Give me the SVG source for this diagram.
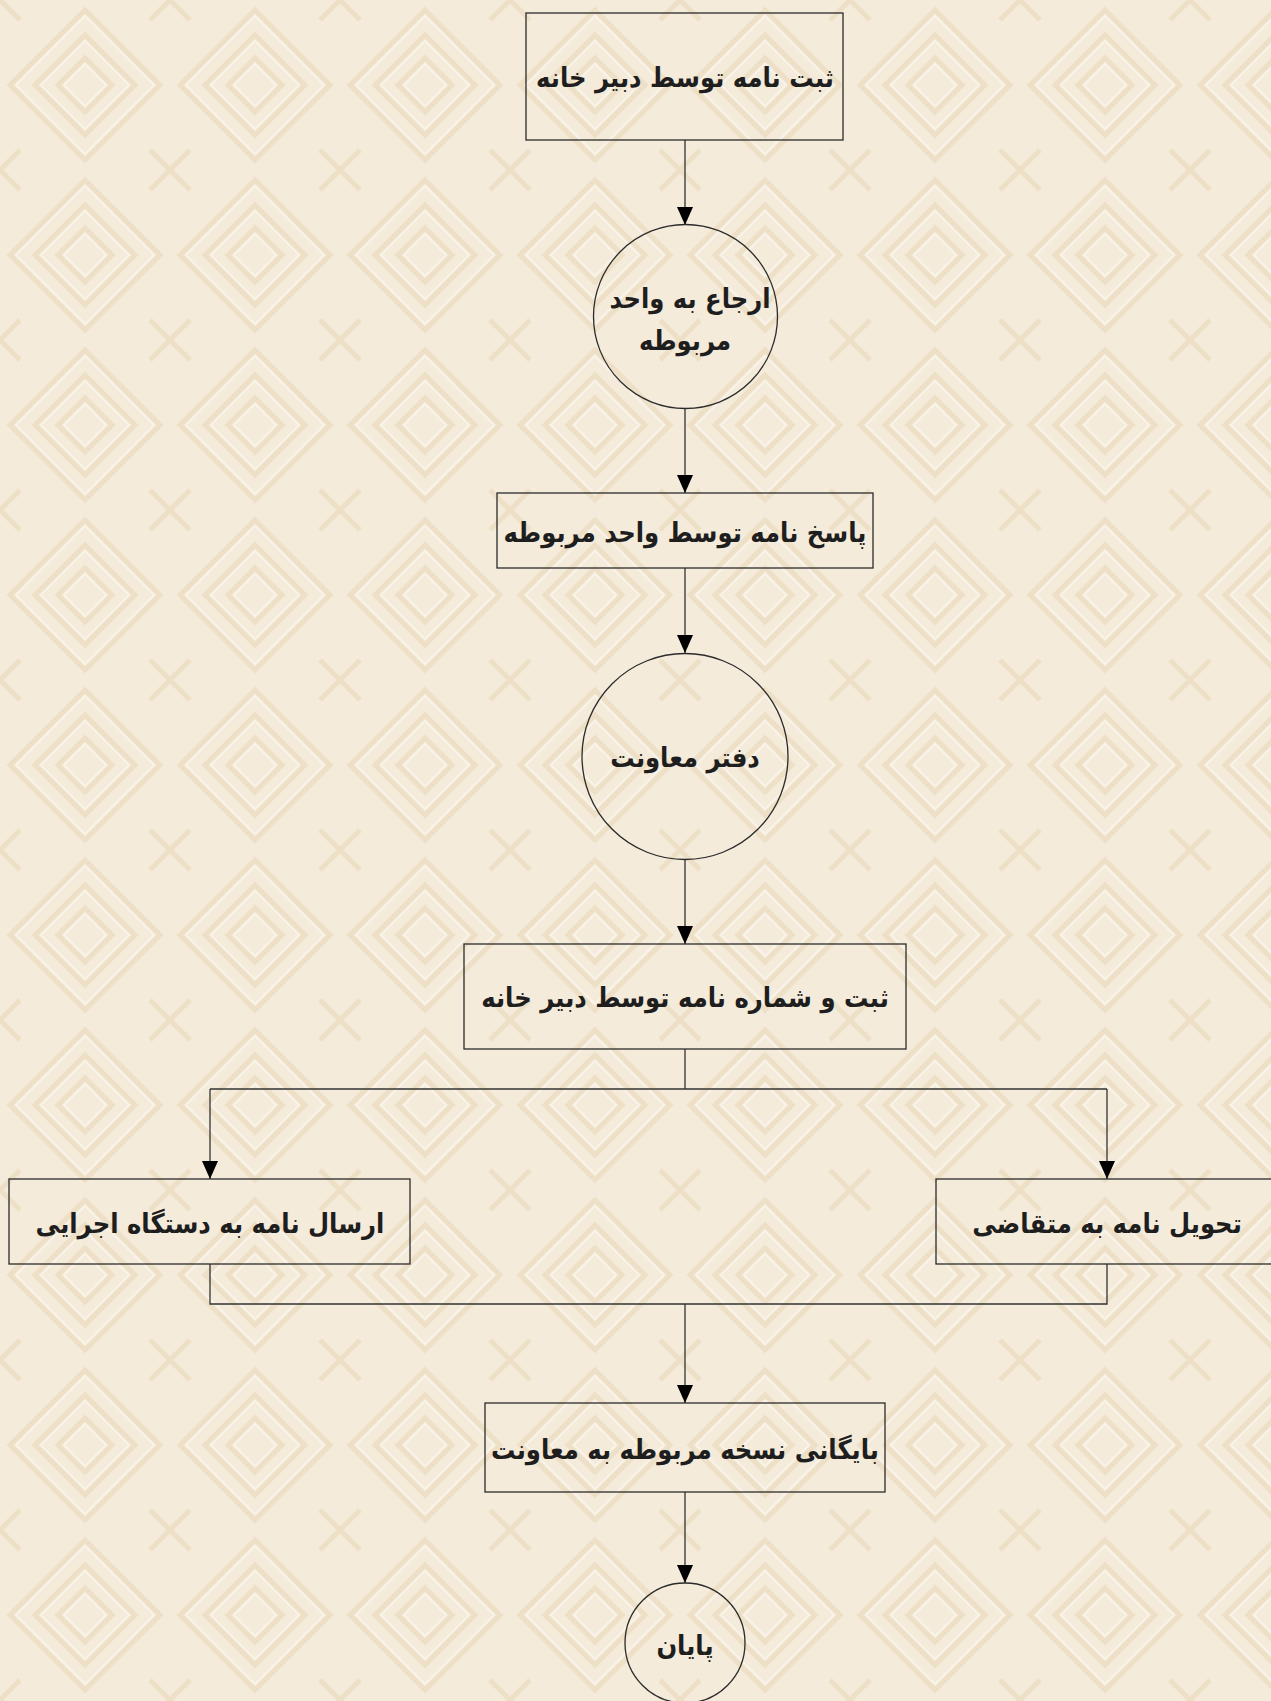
<svg xmlns="http://www.w3.org/2000/svg" width="1271" height="1701" viewBox="0 0 1271 1701">
<style>
.node rect,.node circle{fill:none;stroke:#2b2b2b;stroke-width:1.3}
.lbl{font-family:"DejaVu Sans Condensed","DejaVu Sans","Noto Sans",sans-serif;font-stretch:condensed;font-weight:bold;font-size:27px;fill:#1e1e1e;text-anchor:middle;dominant-baseline:central;direction:rtl}
.conn path{fill:none;stroke:#333;stroke-width:1.3}
.bgp{fill:none;stroke:#eee0c6;stroke-width:5}
.bgh{fill:none;stroke:#f9f3e8;stroke-width:2}
</style>
<defs>
<marker id="ah" markerUnits="userSpaceOnUse" markerWidth="18" markerHeight="16" refX="18" refY="8" orient="auto" viewBox="0 0 18 16">
<path d="M0,0 L18,8 L0,16 z" fill="#000"/>
</marker>
<pattern id="bg" width="170" height="170" patternUnits="userSpaceOnUse">
<rect width="170" height="170" fill="#f4ebdb"/>
<path class="bgp" d="M85,10 L160,85 L85,160 L10,85 Z M85,35 L135,85 L85,135 L35,85 Z M85,58 L112,85 L85,112 L58,85 Z"/>
<path class="bgh" d="M85,16 L154,85 L85,154 L16,85 Z M85,41 L129,85 L85,129 L41,85 Z M85,64 L106,85 L85,106 L64,85 Z"/>
<path class="bgp" d="M0,0 L20,20 M170,0 L150,20 M0,170 L20,150 M170,170 L150,150"/>
</pattern>
</defs>
<rect width="1271" height="1701" fill="url(#bg)"/>
<g class="conn">
<path d="M685,140 V225" marker-end="url(#ah)"/>
<path d="M685,408 V493" marker-end="url(#ah)"/>
<path d="M685,568 V653" marker-end="url(#ah)"/>
<path d="M685,860 V944" marker-end="url(#ah)"/>
<path d="M685,1049 V1089"/>
<path d="M210,1089 H1107"/>
<path d="M210,1089 V1179" marker-end="url(#ah)"/>
<path d="M1107,1089 V1179" marker-end="url(#ah)"/>
<path d="M210,1264 V1304 H1107 V1264"/>
<path d="M685,1304 V1403" marker-end="url(#ah)"/>
<path d="M685,1492 V1583" marker-end="url(#ah)"/>
</g>
<g id="n1" class="node"><rect x="526" y="13" width="317" height="127"/><text class="lbl" x="685" y="77">ثبت نامه توسط دبیر خانه</text></g>
<g id="n2" class="node"><circle cx="685.5" cy="316.5" r="92"/><text class="lbl" x="690" y="298">ارجاع به واحد</text><text class="lbl" x="685" y="340">مربوطه</text></g>
<g id="n3" class="node"><rect x="497" y="493" width="376" height="75"/><text class="lbl" x="685" y="532">پاسخ نامه توسط واحد مربوطه</text></g>
<g id="n4" class="node"><circle cx="685" cy="756.5" r="103"/><text class="lbl" x="685" y="757">دفتر معاونت</text></g>
<g id="n5" class="node"><rect x="464" y="944" width="442" height="105"/><text class="lbl" x="685" y="997">ثبت و شماره نامه توسط دبیر خانه</text></g>
<g id="n6" class="node"><rect x="9" y="1179" width="401" height="85"/><text class="lbl" x="210" y="1223">ارسال نامه به دستگاه اجرایی</text></g>
<g id="n7" class="node"><rect x="936" y="1179" width="342" height="85"/><text class="lbl" x="1107" y="1223">تحویل نامه به متقاضی</text></g>
<g id="n8" class="node"><rect x="485" y="1403" width="400" height="89"/><text class="lbl" x="685" y="1449">بایگانی نسخه مربوطه به معاونت</text></g>
<g id="n9" class="node"><circle cx="685" cy="1643" r="60"/><text class="lbl" x="685" y="1645">پایان</text></g>
</svg>
